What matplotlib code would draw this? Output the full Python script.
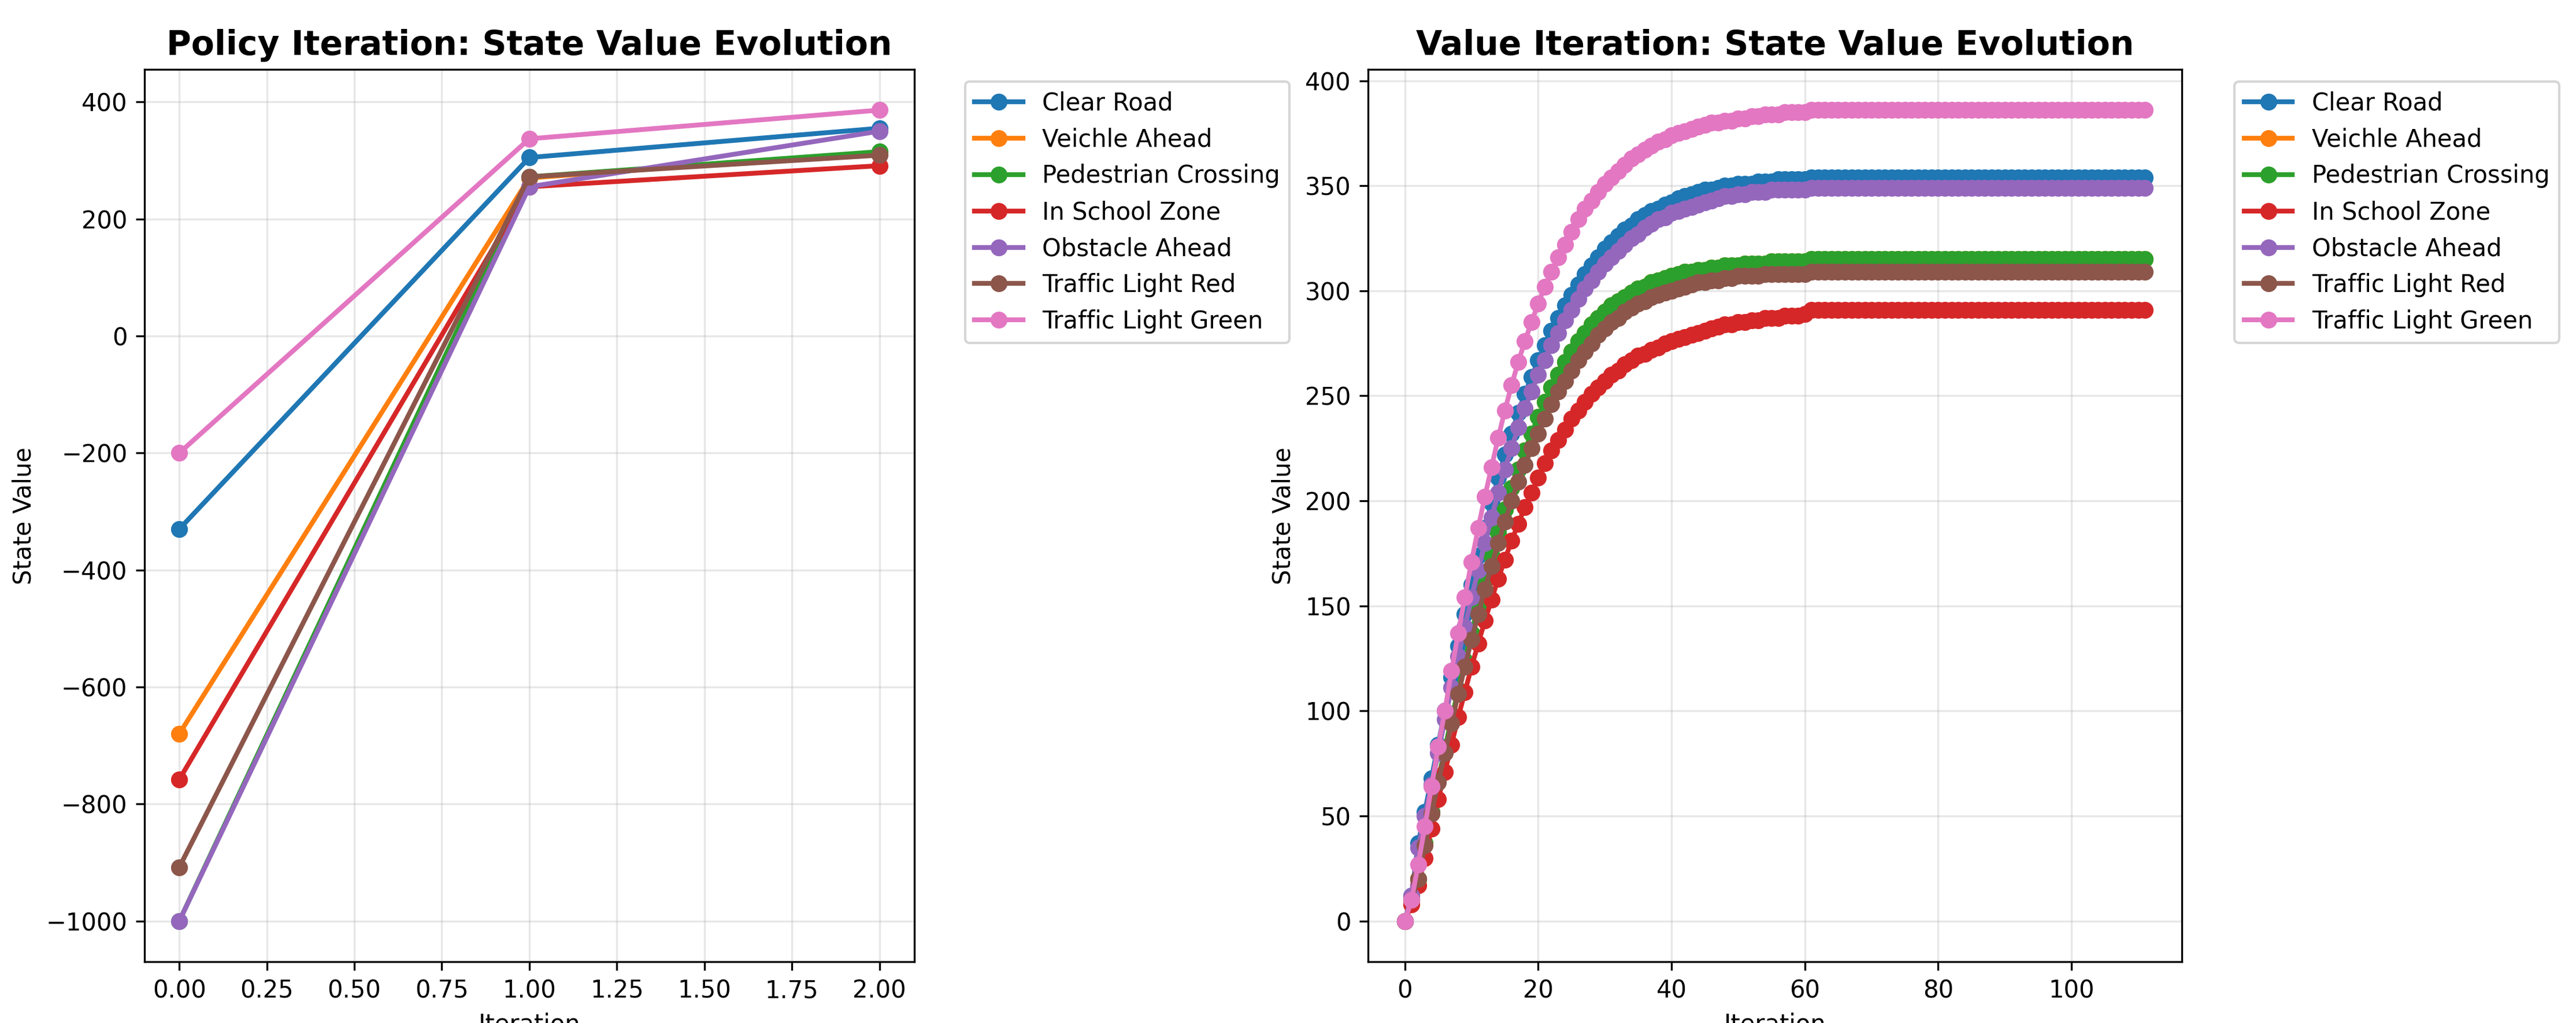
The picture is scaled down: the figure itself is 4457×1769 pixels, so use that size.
import numpy as np
import matplotlib.pyplot as plt

states = ['Clear Road', 'Veichle Ahead', 'Pedestrian Crossing', 'In School Zone',
          'Obstacle Ahead', 'Traffic Light Red', 'Traffic Light Green']

# policy iteration values (iterations 0, 1, 2)
pi_clear = [-330, 305, 355]
pi_vehicle = [-680, 270, 314]
pi_ped = [-1000, 272, 315]
pi_school = [-758, 255, 291]
pi_obstacle = [-1000, 255, 350]
pi_red = [-908, 272, 309]
pi_green = [-200, 337, 386]

# value iteration values, iterations 0..60, then flat at the converged value
vi_clear = [0,12,37,52,68,84,100,116,131,146,160,174,187,199,211,222,232,242,251,259,267,274,281,287,293,298,303,308,312,316,320,323,326,329,331,334,336,338,339,341,342,344,345,346,347,348,348,349,350,350,351,351,351,352,352,352,353,353,353,353,353]
vi_obstacle = [0,12,35,50,65,80,96,111,126,140,154,167,180,192,204,215,225,235,244,252,260,267,274,280,286,291,296,301,305,309,313,316,319,322,325,327,330,332,334,335,337,338,339,340,341,342,343,344,345,345,346,346,347,347,347,348,348,348,348,348,348]
vi_ped = [0,10,20,37,52,67,82,96,110,124,137,150,162,174,185,196,206,215,224,232,240,247,254,260,266,271,276,280,284,287,290,293,295,297,299,301,302,304,305,306,307,308,309,309,310,310,311,311,312,312,312,313,313,313,313,314,314,314,314,314,314]
vi_vehicle = list(vi_ped)
vi_red = [0,10,20,36,51,66,80,94,108,121,134,146,158,169,180,190,200,209,217,225,232,239,246,252,257,262,267,271,275,279,282,285,287,290,292,294,295,297,298,299,300,301,302,303,304,304,305,305,306,306,307,307,307,307,308,308,308,308,308,308,308]
vi_school = [0,8,17,30,44,58,71,84,97,109,121,132,143,153,163,172,181,189,197,204,211,218,224,229,234,239,243,247,251,254,257,260,262,265,267,269,270,272,273,275,276,277,278,279,280,281,282,283,284,284,285,285,286,286,287,287,287,288,288,288,289]
vi_green = [0,10,27,45,64,83,100,119,137,154,171,187,202,216,230,243,255,266,276,285,294,302,309,316,322,328,334,339,343,347,351,354,357,360,363,365,367,369,371,372,374,375,376,377,378,379,380,380,381,381,382,382,383,383,384,384,384,385,385,385,385]
n_iter = 112
finals = [354, 315, 315, 291, 349, 309, 386]

pi_all = [pi_clear, pi_vehicle, pi_ped, pi_school, pi_obstacle, pi_red, pi_green]
vi_all = [vi_clear, vi_vehicle, vi_ped, vi_school, vi_obstacle, vi_red, vi_green]
vi_all = [v + [f] * (n_iter - len(v)) for v, f in zip(vi_all, finals)]

fig = plt.figure(figsize=(4457 / 300, 1769 / 300), dpi=300)
ax1 = fig.add_axes([0.056, 0.06, 0.299, 0.872])
ax2 = fig.add_axes([0.531, 0.06, 0.316, 0.872])

for name, vals in zip(states, pi_all):
    ax1.plot(range(len(vals)), vals, marker='o', linewidth=2, markersize=6, label=name)
for name, vals in zip(states, vi_all):
    ax2.plot(range(len(vals)), vals, marker='o', linewidth=2, markersize=6, label=name)

ax1.set_title('Policy Iteration: State Value Evolution', fontsize=14, fontweight='bold')
ax2.set_title('Value Iteration: State Value Evolution', fontsize=14, fontweight='bold')
for ax in [ax1, ax2]:
    ax.set_xlabel('Iteration')
    ax.set_ylabel('State Value')
    ax.grid(True, alpha=0.3)
    ax.legend(bbox_to_anchor=(1.05, 1), loc='upper left')

plt.savefig('out.png', dpi=300)
